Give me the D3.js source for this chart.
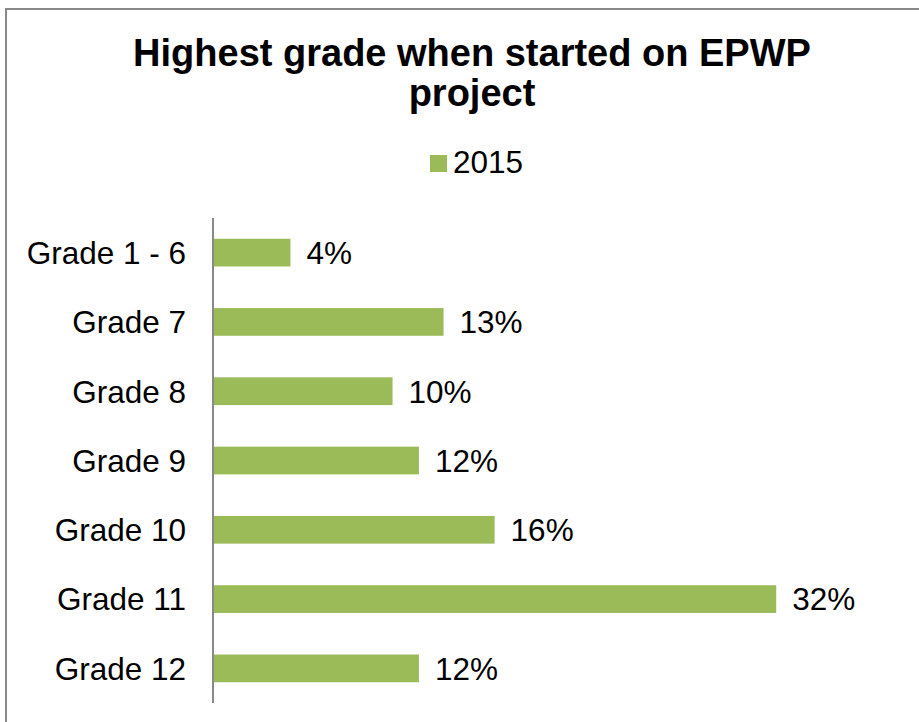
<!DOCTYPE html>
<html>
<head>
<meta charset="utf-8">
<script src="https://cdn.jsdelivr.net/npm/d3@7"></script>
<style>
  body { margin: 0; background: #fff; }
  svg text { font-family: "Liberation Sans", Arial, sans-serif; fill: #000; }
</style>
</head>
<body>
<svg id="chart" width="919" height="722"></svg>
<script>
// data (labels are the rounded values)
var categories = ["Grade 1 - 6", "Grade 7", "Grade 8", "Grade 9", "Grade 10", "Grade 11", "Grade 12"];
var values2015 = [4.4, 13.1, 10.2, 11.7, 16.0, 32.0, 11.7];
var seriesName = "2015";
var titleLines = ["Highest grade when started on EPWP", "project"];

var svg = d3.select("#chart");
var barColor = "#9bbb59";
var fontSize = "31.5px";

// chart frame (only top/left edges visible in the picture)
svg.append("rect")
  .attr("x", 6).attr("y", 9)
  .attr("width", 940).attr("height", 740)
  .attr("fill", "none")
  .attr("stroke", "#898989")
  .attr("stroke-width", 2);

// title
svg.append("text")
  .attr("x", 472)
  .attr("text-anchor", "middle")
  .style("font-size", "38px")
  .style("font-weight", "bold")
  .selectAll("tspan")
  .data(titleLines).enter()
  .append("tspan")
  .attr("x", 472)
  .attr("y", function (d, i) { return 66 + i * 40; })
  .text(function (d) { return d; });

// legend
var legend = svg.append("g").attr("transform", "translate(430,155)");
legend.append("rect")
  .attr("width", 17).attr("height", 17)
  .attr("fill", barColor);
legend.append("text")
  .attr("x", 23).attr("y", 18)
  .style("font-size", fontSize)
  .text(seriesName);

var xScale = d3.scaleLinear().domain([0, 35]).range([213, 829]);
var yScale = d3.scaleBand().domain(categories).range([218, 703])
  .paddingInner(0.6).paddingOuter(0.3);

var data = categories.map(function (c, i) { return [c, values2015[i]]; });
var fmt = function (v) { return d3.format(".0f")(v) + "%"; };

svg.selectAll("rect.bar")
  .data(data).enter()
  .append("rect")
  .attr("class", "bar")
  .attr("x", xScale(0))
  .attr("y", function (d) { return yScale(d[0]); })
  .attr("width", function (d) { return xScale(d[1]) - xScale(0); })
  .attr("height", yScale.bandwidth())
  .attr("fill", barColor);

svg.selectAll("text.val")
  .data(data).enter()
  .append("text")
  .attr("class", "val")
  .attr("x", function (d) { return xScale(d[1]) + 16; })
  .attr("y", function (d) { return yScale(d[0]) + yScale.bandwidth() / 2; })
  .attr("dy", "0.36em")
  .style("font-size", fontSize)
  .text(function (d) { return fmt(d[1]); });

// category axis
var yAxis = d3.axisLeft(yScale).tickSize(0).tickPadding(27);
var gy = svg.append("g")
  .attr("transform", "translate(" + xScale(0) + ",0)")
  .call(yAxis);
gy.select(".domain").attr("stroke", "#898989").attr("stroke-width", 2)
  .attr("d", "M0,218V703");
gy.selectAll("text")
  .attr("dy", "0.36em")
  .style("font-size", fontSize)
  .style("font-family", "Liberation Sans, Arial, sans-serif")
  .attr("fill", "#000");
</script>
</body>
</html>
